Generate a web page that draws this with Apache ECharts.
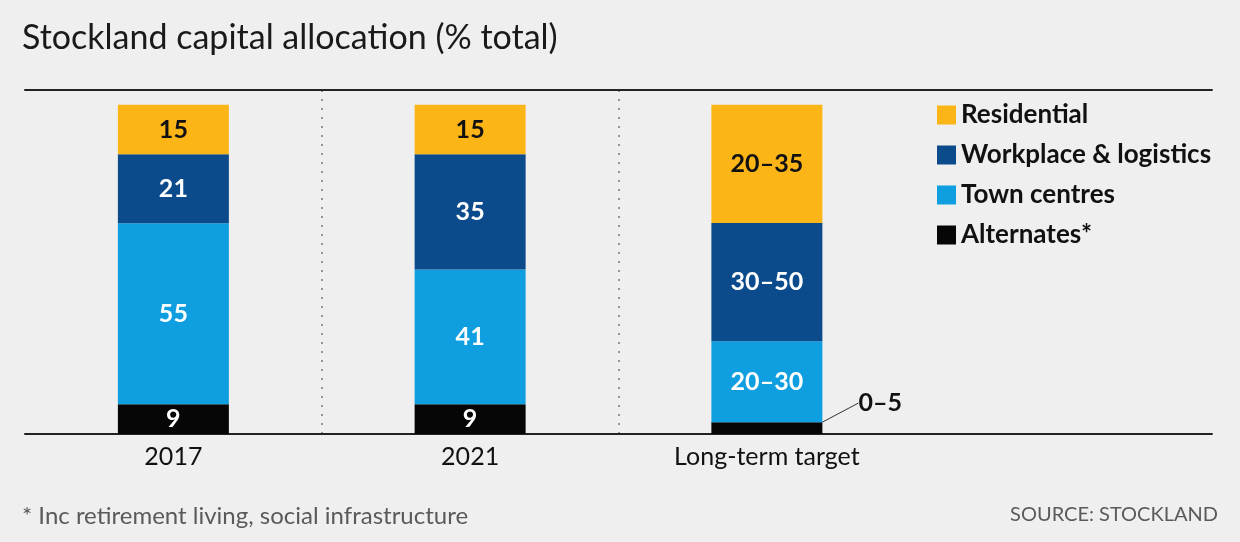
<!DOCTYPE html>
<html>
<head>
<meta charset="utf-8">
<script src="https://cdn.jsdelivr.net/npm/echarts@6/dist/echarts.min.js"></script>
<style>
  html, body { margin: 0; padding: 0; background: #efefef; }
  #chart { width: 1240px; height: 542px; }
</style>
</head>
<body>
<div id="chart"></div>
<script>
// categories (last one is an empty slot where the legend sits)
var categories = ['2017', '2021', 'Long-term target', ''];

// shares of total, bottom to top; target column
var alternates  = [9, 9, 3.6];
var townCentres = [55, 41, 24.6];
var workplace   = [21, 35, 35.9];
var residential = [15, 15, 35.9];

// text printed on the segments
var alternatesLabels  = ['9', '9', '0–5'];
var townCentresLabels = ['55', '41', '20–30'];
var workplaceLabels   = ['21', '35', '30–50'];
var residentialLabels = ['15', '15', '20–35'];

var FONT = 'Lato';

function makeSeries(name, values, labels, color, textColor) {
	return {
		name: name,
		type: 'bar',
		stack: 'total',
		barWidth: 111,
		itemStyle: { color: color },
		label: {
			show: true,
			position: 'inside',
			fontFamily: FONT,
			fontWeight: 'bold',
			fontSize: 25,
			color: textColor,
			formatter: function (p) { return labels[p.dataIndex]; }
		},
		data: values.slice()
	};
}

var alt = makeSeries('Alternates*', alternates, alternatesLabels, '#060606', '#ffffff');
// the small target slice gets its label outside, with a leader line
alt.data[2] = {
	value: alternates[2],
	label: { position: 'right', color: '#111111', distance: 4 },
	labelLine: { show: true, lineStyle: { color: '#333333', width: 1 } }
};
alt.labelLayout = function (p) {
	if (p.dataIndex === 2) {
		return { dx: 32, dy: -25 };
	}
};

var option = {
	backgroundColor: '#efefef',
	animation: false,
	title: [
		{
			text: 'Stockland capital allocation (% total)',
			left: 17, top: 16,
			textStyle: { fontFamily: FONT, fontWeight: 'normal', fontSize: 34, color: '#1a1a1a' }
		},
		{
			text: '* Inc retirement living, social infrastructure',
			left: 17, top: 499,
			textStyle: { fontFamily: FONT, fontWeight: 'normal', fontSize: 24, color: '#5a5a5a' }
		},
		{
			text: 'SOURCE: STOCKLAND',
			right: 17, top: 500,
			textStyle: { fontFamily: FONT, fontWeight: 'normal', fontSize: 20, color: '#5a5a5a' }
		}
	],
	legend: {
		orient: 'vertical',
		left: 932, top: 97,
		itemWidth: 19, itemHeight: 19,
		itemGap: 14,
		icon: 'rect',
		data: ['Residential', 'Workplace & logistics', 'Town centres', 'Alternates*'],
		textStyle: { fontFamily: FONT, fontWeight: 'bold', fontSize: 26, color: '#111111' }
	},
	grid: { left: 25, right: 28, top: 90, bottom: 108 },
	xAxis: [
		{
			type: 'category',
			data: categories,
			axisLine: { lineStyle: { color: '#222222', width: 2 } },
			axisTick: { show: false },
			axisLabel: { fontFamily: FONT, fontSize: 25, color: '#111111', margin: 10 },
			splitLine: {
				show: true,
				// edges are dropped, leaving the two separators between columns
				showMinLine: false,
				showMaxLine: false,
				interval: function (index) { return index <= 2; },
				lineStyle: { color: '#777777', width: 1.5, type: [2, 7] }
			}
		},
		{
			type: 'category',
			position: 'top',
			data: categories,
			axisLine: { show: true, lineStyle: { color: '#222222', width: 2 } },
			axisTick: { show: false },
			axisLabel: { show: false }
		}
	],
	yAxis: { type: 'value', min: 0, max: 104.5, show: false },
	series: [
		alt,
		makeSeries('Town centres', townCentres, townCentresLabels, '#0f9fe0', '#ffffff'),
		makeSeries('Workplace & logistics', workplace, workplaceLabels, '#0b4b8b', '#ffffff'),
		makeSeries('Residential', residential, residentialLabels, '#fbb517', '#111111')
	]
};

var chart = echarts.init(document.getElementById('chart'));
chart.setOption(option);
</script>
</body>
</html>
